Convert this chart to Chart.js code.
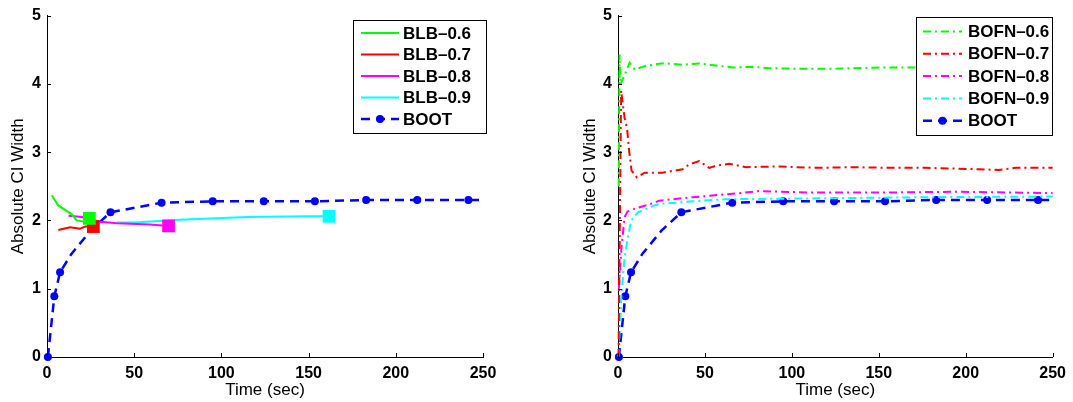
<!DOCTYPE html>
<html>
<head>
<meta charset="utf-8">
<script src="https://cdn.jsdelivr.net/npm/chart.js@4.4.1/dist/chart.umd.min.js"></script>
<style>
  html, body { margin: 0; padding: 0; background: #fff; }
  body { width: 1073px; height: 402px; position: relative; overflow: hidden; }
  canvas { position: absolute; top: 0; }
</style>
</head>
<body>
<canvas id="left" width="536" height="402" style="left:0"></canvas>
<canvas id="right" width="537" height="402" style="left:536px"></canvas>
<script>
// tick labels
const xTicks = [0, 50, 100, 150, 200, 250]
const yTicks = [0, 1, 2, 3, 4, 5]

// BOOT (same run shown in both panels); 1 = marker drawn
const bootTime = [0.5, 4.2, 7.5, 14, 25, 36.4, 65.7, 95, 124.3, 153.6, 183, 212.3, 241.6, 248]
const bootValue = [0, 0.89, 1.24, 1.51, 1.85, 2.12, 2.26, 2.28, 2.28, 2.28, 2.30, 2.30, 2.30, 2.30]
const bootMarker = [1, 1, 1, 0, 0, 1, 1, 1, 1, 1, 1, 1, 1, 0]

// left panel: BLB
const blbLabels = ['BLB–0.6', 'BLB–0.7', 'BLB–0.8', 'BLB–0.9']
const blb06Time = [2.7, 6.5, 14.2, 17, 21.8, 24.3]
const blb06Value = [2.37, 2.22, 2.09, 2.0, 1.98, 2.03]
const blb07Time = [6.5, 13.2, 18.9, 22, 26.6]
const blb07Value = [1.86, 1.90, 1.88, 1.91, 1.91]
const blb08Time = [12.3, 20, 30.5, 40, 59, 69.7]
const blb08Value = [2.07, 2.05, 1.98, 1.96, 1.94, 1.92]
const blb09Time = [40, 50, 76, 115, 150, 161.7]
const blb09Value = [1.97, 1.97, 2.01, 2.05, 2.06, 2.06]

// right panel: BOFN
const bofnLabels = ['BOFN–0.6', 'BOFN–0.7', 'BOFN–0.8', 'BOFN–0.9']
const bofn06Time = [0.4, 0.9, 1.4, 3.8, 6.7, 9.6, 15.3, 24.9, 27.6, 37, 46.7, 56.3, 66, 77.4, 87, 106, 120, 134.8, 154, 169, 200, 250]
const bofn06Value = [2.5, 4.43, 3.99, 4.13, 4.31, 4.21, 4.26, 4.30, 4.30, 4.28, 4.30, 4.27, 4.24, 4.25, 4.23, 4.22, 4.22, 4.23, 4.24, 4.24, 4.23, 4.23]
const bofn07Time = [0.3, 1.8, 3.8, 5.2, 6.5, 7.8, 10.8, 15.3, 25.6, 37.1, 41, 46.7, 52.5, 56.1, 64, 73.6, 90.8, 115.7, 134.8, 157.8, 177, 207.6, 219, 228.7, 250]
const bofn07Value = [0, 3.9, 3.5, 3.35, 3.0, 2.73, 2.63, 2.70, 2.70, 2.75, 2.82, 2.87, 2.77, 2.80, 2.83, 2.78, 2.79, 2.77, 2.78, 2.77, 2.77, 2.75, 2.74, 2.77, 2.77]
const bofn08Time = [0.5, 2.0, 3.8, 5.5, 9.5, 21, 23.7, 42.9, 65.9, 81.2, 110, 157.8, 196, 250]
const bofn08Value = [1.0, 1.6, 2.05, 2.13, 2.17, 2.26, 2.29, 2.34, 2.39, 2.43, 2.41, 2.41, 2.42, 2.40]
const bofn09Time = [0.3, 1.9, 3.8, 5.7, 7.6, 11.5, 21, 23.7, 42.9, 62, 100, 177, 250]
const bofn09Value = [0, 0.88, 1.46, 1.75, 2.0, 2.12, 2.22, 2.24, 2.28, 2.31, 2.32, 2.34, 2.35]

const colors = ['#00ff00', '#ff0000', '#ff00ff', '#00ffff']
const FONT = '"Liberation Sans", Arial, Helvetica, sans-serif'

const toPoints = (t, v) => t.map((x, i) => ({ x: x, y: v[i] }))

function blbSet(label, t, v, color) {
  const last = t.length - 1
  return {
    label: label,
    data: toPoints(t, v),
    borderColor: color,
    backgroundColor: color,
    borderWidth: 2,
    pointStyle: 'rect',
    pointRadius: t.map((x, i) => i === last ? 9 : 0),
    pointBorderWidth: 0,
    clip: false
  }
}

function bofnSet(label, t, v, color) {
  return {
    label: label,
    data: toPoints(t, v),
    borderColor: color,
    borderWidth: 2,
    borderDash: [8, 4, 2, 4],
    pointRadius: 0,
    clip: false
  }
}

function bootSet() {
  return {
    label: 'BOOT',
    data: toPoints(bootTime, bootValue),
    borderColor: '#0000ff',
    backgroundColor: '#0000ff',
    borderWidth: 2.5,
    borderDash: [9, 6],
    pointRadius: bootMarker.map(m => m ? 4 : 0),
    pointBorderWidth: 0,
    isBoot: true,
    clip: false
  }
}

// inward tick marks + boxed legend, drawn the matlab way
function axisDecor(legendBox) {
  return {
    id: 'axisDecor',
    afterDraw(chart) {
      const ctx = chart.ctx
      const area = chart.chartArea
      const xs = chart.scales.x
      const ys = chart.scales.y
      ctx.save()
      ctx.strokeStyle = '#000'
      ctx.lineWidth = 1
      ctx.beginPath()
      xTicks.forEach(t => {
        const px = Math.round(xs.getPixelForValue(t)) + 0.5
        ctx.moveTo(px, area.bottom)
        ctx.lineTo(px, area.bottom - 4)
      })
      yTicks.forEach(t => {
        const py = Math.round(ys.getPixelForValue(t)) + 0.5
        ctx.moveTo(area.left, py)
        ctx.lineTo(area.left + 4, py)
      })
      ctx.stroke()

      const lb = legendBox
      ctx.fillStyle = '#fff'
      ctx.fillRect(lb.left, lb.top, lb.width, lb.height)
      ctx.strokeStyle = '#000'
      ctx.strokeRect(lb.left + 0.5, lb.top + 0.5, lb.width, lb.height)
      chart.data.datasets.forEach((ds, i) => {
        const y = lb.rowY + i * lb.rowGap
        ctx.save()
        ctx.strokeStyle = ds.borderColor
        ctx.lineWidth = ds.borderWidth
        ctx.setLineDash(ds.borderDash || [])
        ctx.beginPath()
        ctx.moveTo(lb.sampleX0, y)
        ctx.lineTo(lb.sampleX1, y)
        ctx.stroke()
        if (ds.isBoot) {
          ctx.fillStyle = ds.borderColor
          ctx.beginPath()
          ctx.arc((lb.sampleX0 + lb.sampleX1) / 2, y, 4, 0, Math.PI * 2)
          ctx.fill()
        }
        ctx.restore()
        ctx.fillStyle = '#000'
        ctx.font = 'bold 17px ' + FONT
        ctx.textBaseline = 'middle'
        ctx.textAlign = 'left'
        ctx.fillText(ds.label, lb.textX, y + 1)
      })
      ctx.restore()
    }
  }
}

function makeChart(id, datasets, padding, yWidth, legendBox) {
  return new Chart(document.getElementById(id), {
    type: 'line',
    data: { datasets: datasets },
    options: {
      responsive: false,
      animation: false,
      devicePixelRatio: 1,
      layout: { padding: padding },
      elements: { line: { tension: 0 } },
      plugins: { legend: { display: false }, tooltip: { enabled: false } },
      scales: {
        x: {
          type: 'linear',
          min: 0,
          max: 250,
          afterBuildTicks: s => { s.ticks = xTicks.map(v => ({ value: v })) },
          afterFit: s => { s.height = 45 },
          grid: { display: false, drawTicks: false },
          border: { display: true, color: '#000', width: 1 },
          ticks: { color: '#000', padding: 7, maxRotation: 0, font: { family: FONT, size: 16, weight: 'bold' } },
          title: { display: true, text: 'Time (sec)', color: '#000', padding: { top: 0, bottom: 1 }, font: { family: FONT, size: 17 } }
        },
        y: {
          type: 'linear',
          min: 0,
          max: 5,
          afterBuildTicks: s => { s.ticks = yTicks.map(v => ({ value: v })) },
          afterFit: s => { s.width = yWidth },
          grid: { display: false, drawTicks: false },
          border: { display: true, color: '#000', width: 1 },
          ticks: { color: '#000', padding: 6, font: { family: FONT, size: 16, weight: 'bold' } },
          title: { display: true, text: 'Absolute CI Width', color: '#000', padding: { top: 8, bottom: 0 }, font: { family: FONT, size: 17 } }
        }
      }
    },
    plugins: [axisDecor(legendBox)]
  })
}

const leftSets = [
  blbSet(blbLabels[0], blb06Time, blb06Value, colors[0]),
  blbSet(blbLabels[1], blb07Time, blb07Value, colors[1]),
  blbSet(blbLabels[2], blb08Time, blb08Value, colors[2]),
  blbSet(blbLabels[3], blb09Time, blb09Value, colors[3]),
  bootSet()
]
const rightSets = [
  bofnSet(bofnLabels[0], bofn06Time, bofn06Value, colors[0]),
  bofnSet(bofnLabels[1], bofn07Time, bofn07Value, colors[1]),
  bofnSet(bofnLabels[2], bofn08Time, bofn08Value, colors[2]),
  bofnSet(bofnLabels[3], bofn09Time, bofn09Value, colors[3]),
  bootSet()
]

makeChart('left', leftSets, { left: 0, right: 53, top: 14, bottom: 0 }, 47,
  { left: 353, top: 20, width: 133, height: 113, sampleX0: 361, sampleX1: 399, textX: 403, rowY: 33, rowGap: 21.5 })
makeChart('right', rightSets, { left: 36, right: 20, top: 14, bottom: 0 }, 46,
  { left: 380, top: 17, width: 136, height: 118, sampleX0: 387, sampleX1: 426, textX: 432, rowY: 31.5, rowGap: 22.3 })
</script>
</body>
</html>
